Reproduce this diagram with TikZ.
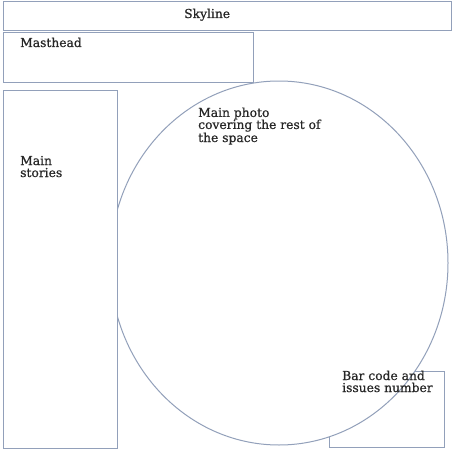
\documentclass[tikz,border=0pt]{standalone}
\usepackage{fontspec}
\setmainfont{DejaVu Serif}[FakeBold=0.6]
\usetikzlibrary{shapes.geometric}
\definecolor{edge}{RGB}{146,160,186}
\begin{document}
\begin{tikzpicture}[x=1pt,y=-1pt,
  box/.style={draw=edge,line width=1pt,fill=white},
  lbl/.style={anchor=base west,inner sep=0pt,font=\fontsize{12.3}{12}\selectfont,text=black!85}]
\useasboundingbox (0,0) rectangle (452,452);
\fill[white] (0,0) rectangle (452,452);
% skyline and masthead
\draw[box] (3,2) rectangle (451,31);
\draw[box] (3,33) rectangle (253,82);
% bar code box
\draw[box] (329,371) rectangle (444,447);
% main photo ellipse
\draw[box] (279,263) ellipse [x radius=169, y radius=182];
% main stories column
\draw[box] (3,90) rectangle (117,448);
% labels
\node[lbl] (sky) at (184,18) {Skyline};
\node[lbl] (mast) at (20,47) {Masthead};
\node[lbl,align=left] (stories) at (20,177) {Main\\stories};
\node[lbl,align=left] (photo) at (198,142) {Main photo\\covering the rest of\\the space};
\node[lbl,align=left] (bar) at (342,392) {Bar code and\\issues number};
\end{tikzpicture}
\end{document}
